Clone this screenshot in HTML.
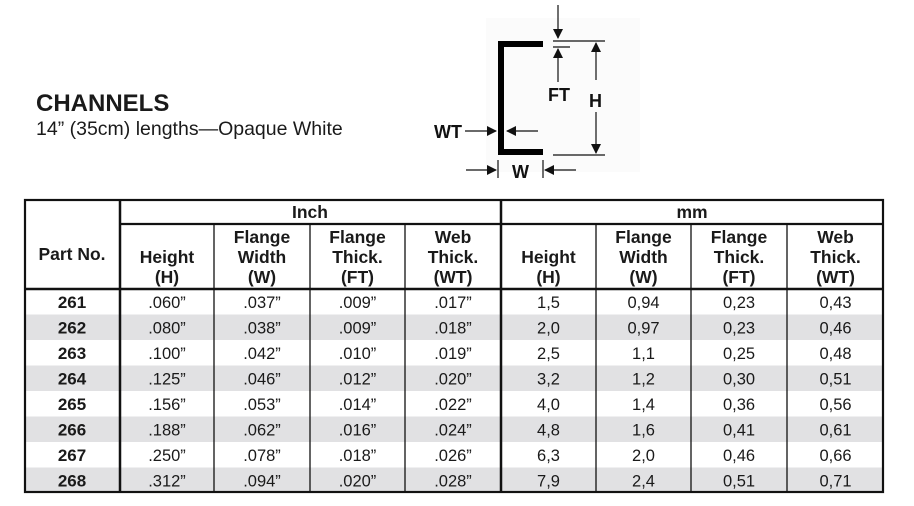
<!DOCTYPE html>
<html><head><meta charset="utf-8"><style>
html,body{margin:0;padding:0;background:#fff;}
svg{display:block;font-family:"Liberation Sans",Arial,sans-serif;}
</style></head><body>
<svg width="914" height="506" viewBox="0 0 914 506" xmlns="http://www.w3.org/2000/svg">
<defs>
<marker id="ah" markerWidth="10" markerHeight="10" refX="9" refY="5" orient="auto" markerUnits="userSpaceOnUse"><path d="M0,0 L10,5 L0,10 z" fill="#111"/></marker>
</defs>
<text x="36" y="111" font-size="24" font-weight="bold" fill="#1a1a1a">CHANNELS</text>
<text x="36" y="135" font-size="19.5" fill="#1a1a1a">14” (35cm) lengths—Opaque White</text>

<!-- diagram -->
<rect x="486" y="18" width="154" height="154" fill="#fbfbfb"/>
<path d="M498,41 H543 V47 H504 V149 H543 V155 H498 Z" fill="#000"/>
<g stroke="#111" stroke-width="1.2" fill="none">
<line x1="558" y1="5" x2="558" y2="38" marker-end="url(#ah)"/>
<line x1="553" y1="41" x2="605" y2="41"/>
<line x1="553" y1="47" x2="570" y2="47"/>
<line x1="558" y1="82" x2="558" y2="49" marker-end="url(#ah)"/>
<line x1="596" y1="80" x2="596" y2="43" marker-end="url(#ah)"/>
<line x1="596" y1="112" x2="596" y2="153" marker-end="url(#ah)"/>
<line x1="553" y1="155" x2="605" y2="155"/>
<line x1="465" y1="131" x2="496" y2="131" marker-end="url(#ah)"/>
<line x1="538" y1="131" x2="507" y2="131" marker-end="url(#ah)"/>
<line x1="498" y1="160" x2="498" y2="178"/>
<line x1="543" y1="160" x2="543" y2="178"/>
<line x1="466" y1="170" x2="496" y2="170" marker-end="url(#ah)"/>
<line x1="576" y1="170" x2="545" y2="170" marker-end="url(#ah)"/>
</g>
<g font-size="18" font-weight="bold" fill="#111">
<text x="548" y="101">FT</text>
<text x="589" y="107">H</text>
<text x="434" y="138">WT</text>
<text x="512" y="178">W</text>
</g>

<!-- table shading -->
<g fill="#e1e1e3">
<rect x="24" y="314.5" width="860" height="25.5"/>
<rect x="24" y="365.5" width="860" height="25.5"/>
<rect x="24" y="416.5" width="860" height="25.5"/>
<rect x="24" y="467.5" width="860" height="25.5"/>
</g>
<!-- table lines -->
<g stroke="#111" fill="none">
<rect x="25" y="200" width="858" height="292" stroke-width="2.2"/>
<line x1="120" y1="224" x2="883" y2="224" stroke-width="2.2"/>
<line x1="25" y1="289" x2="883" y2="289" stroke-width="2.5"/>
<line x1="120" y1="200" x2="120" y2="492" stroke-width="2.5"/>
<line x1="501" y1="200" x2="501" y2="492" stroke-width="2.5"/>
<g stroke-width="1.3">
<line x1="214" y1="224" x2="214" y2="492"/>
<line x1="310" y1="224" x2="310" y2="492"/>
<line x1="405" y1="224" x2="405" y2="492"/>
<line x1="596" y1="224" x2="596" y2="492"/>
<line x1="691" y1="224" x2="691" y2="492"/>
<line x1="787" y1="224" x2="787" y2="492"/>
</g>
</g>
<!-- headers -->
<g font-size="17.5" font-weight="bold" fill="#1a1a1a" text-anchor="middle">
<text x="310" y="218">Inch</text>
<text x="692" y="218">mm</text>
<text x="72" y="260">Part No.</text>
<text x="167" y="263">Height</text><text x="167" y="283">(H)</text>
<text x="262" y="243">Flange</text><text x="262" y="263">Width</text><text x="262" y="283">(W)</text>
<text x="357.5" y="243">Flange</text><text x="357.5" y="263">Thick.</text><text x="357.5" y="283">(FT)</text>
<text x="453" y="243">Web</text><text x="453" y="263">Thick.</text><text x="453" y="283">(WT)</text>
<text x="548.5" y="263">Height</text><text x="548.5" y="283">(H)</text>
<text x="643.5" y="243">Flange</text><text x="643.5" y="263">Width</text><text x="643.5" y="283">(W)</text>
<text x="739" y="243">Flange</text><text x="739" y="263">Thick.</text><text x="739" y="283">(FT)</text>
<text x="835.5" y="243">Web</text><text x="835.5" y="263">Thick.</text><text x="835.5" y="283">(WT)</text>
</g>
<!-- part numbers -->
<g font-size="17" font-weight="bold" fill="#1a1a1a" text-anchor="middle">
<text x="72" y="308">261</text><text x="72" y="333.5">262</text><text x="72" y="359">263</text><text x="72" y="384.5">264</text>
<text x="72" y="410">265</text><text x="72" y="435.5">266</text><text x="72" y="461">267</text><text x="72" y="486.5">268</text>
</g>
<g font-size="16.5" fill="#1a1a1a" text-anchor="middle">
<g transform="translate(0,308)"><text x="167">.060”</text><text x="262">.037”</text><text x="357.5">.009”</text><text x="453">.017”</text><text x="548.5">1,5</text><text x="643.5">0,94</text><text x="739">0,23</text><text x="835.5">0,43</text></g>
<g transform="translate(0,333.5)"><text x="167">.080”</text><text x="262">.038”</text><text x="357.5">.009”</text><text x="453">.018”</text><text x="548.5">2,0</text><text x="643.5">0,97</text><text x="739">0,23</text><text x="835.5">0,46</text></g>
<g transform="translate(0,359)"><text x="167">.100”</text><text x="262">.042”</text><text x="357.5">.010”</text><text x="453">.019”</text><text x="548.5">2,5</text><text x="643.5">1,1</text><text x="739">0,25</text><text x="835.5">0,48</text></g>
<g transform="translate(0,384.5)"><text x="167">.125”</text><text x="262">.046”</text><text x="357.5">.012”</text><text x="453">.020”</text><text x="548.5">3,2</text><text x="643.5">1,2</text><text x="739">0,30</text><text x="835.5">0,51</text></g>
<g transform="translate(0,410)"><text x="167">.156”</text><text x="262">.053”</text><text x="357.5">.014”</text><text x="453">.022”</text><text x="548.5">4,0</text><text x="643.5">1,4</text><text x="739">0,36</text><text x="835.5">0,56</text></g>
<g transform="translate(0,435.5)"><text x="167">.188”</text><text x="262">.062”</text><text x="357.5">.016”</text><text x="453">.024”</text><text x="548.5">4,8</text><text x="643.5">1,6</text><text x="739">0,41</text><text x="835.5">0,61</text></g>
<g transform="translate(0,461)"><text x="167">.250”</text><text x="262">.078”</text><text x="357.5">.018”</text><text x="453">.026”</text><text x="548.5">6,3</text><text x="643.5">2,0</text><text x="739">0,46</text><text x="835.5">0,66</text></g>
<g transform="translate(0,486.5)"><text x="167">.312”</text><text x="262">.094”</text><text x="357.5">.020”</text><text x="453">.028”</text><text x="548.5">7,9</text><text x="643.5">2,4</text><text x="739">0,51</text><text x="835.5">0,71</text></g>
</g>
</svg>
</body></html>
